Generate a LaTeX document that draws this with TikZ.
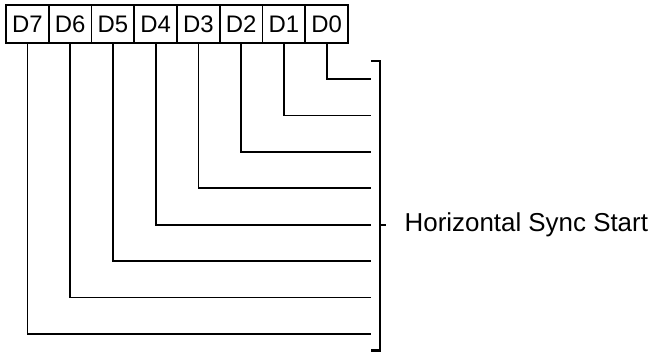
\documentclass[tikz,border=0pt]{standalone}
\usepackage{fontspec}
\setmainfont{Liberation Sans}
\usetikzlibrary{positioning}
\tikzset{
  bitbox/.style={draw, line width=1.8bp, minimum width=42.75bp, minimum height=38bp, inner sep=0pt, font=\fontsize{24}{24}\selectfont},
  wire/.style={line width=1.8bp},
  bracketline/.style={line width=2.2bp},
}
\begin{document}
\begin{tikzpicture}[x=1bp, y=-1bp]
			%%%%% START %%%%%
			\useasboundingbox (0, 0) rectangle (650, 352);
			
			% register bits
			\node[bitbox] (d7) at (27.4, 24) {D7};
			\foreach \i [evaluate=\i as \j using int(\i+1)] in {6,...,0}
				\node[bitbox, right=-1.8bp of d\j] (d\i) {D\i};
			
			% bit lines into the bracket
			\foreach \i in {0,...,7} {
				\coordinate (e\i) at (371, 79 + 36.43*\i);
				\draw[wire] (d\i.south) |- (e\i);
			}
			
			% bracket
			\coordinate (bt) at (371, 61);
			\coordinate (bb) at (371, 350.5);
			\coordinate (bm) at (380, 224.7);
			\draw[bracketline] (bt) -- (bt -| bm) -- (bb -| bm) -- (bb);
			\draw[wire] (bm) -- ++(5.5, 0) coordinate (bk);
			\node[anchor=west, font=\fontsize{26}{26}\selectfont, inner sep=0pt] (sync) at ([xshift=19bp]bk) {Horizontal Sync Start};
			
			%%%%% END %%%%%
\end{tikzpicture}
\end{document}
